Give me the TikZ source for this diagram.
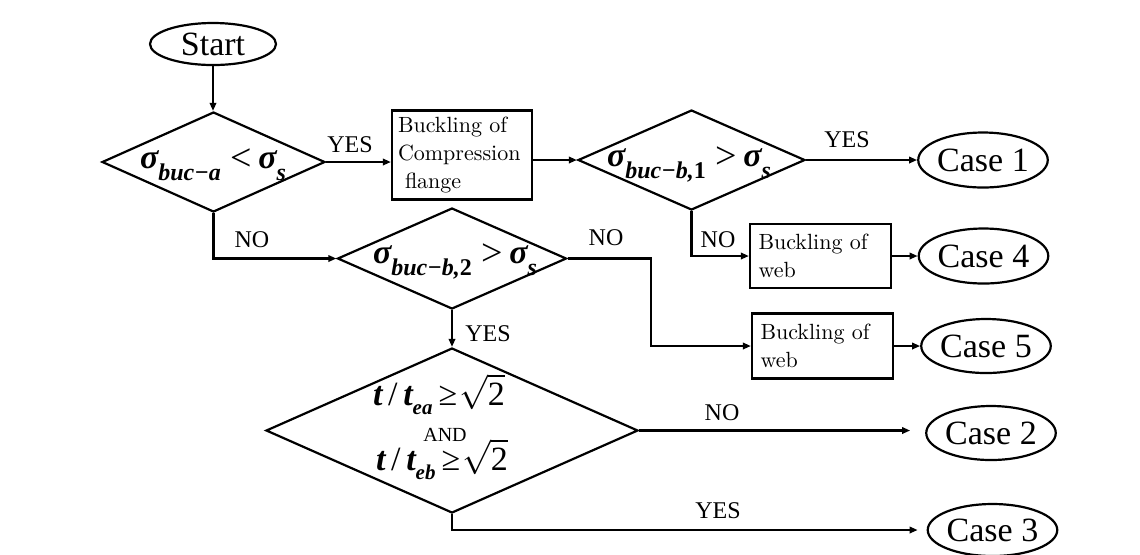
\documentclass[tikz,border=0pt]{standalone}
\usepackage{fontspec}
\setmainfont{Liberation Serif}
\newfontfamily\lmr{Latin Modern Roman}
\usetikzlibrary{shapes.geometric,arrows.meta}
\newcommand{\sgm}{{\bfseries\itshape σ}}
\newcommand{\bi}[1]{{\bfseries\itshape #1}}
\newcommand{\rel}[1]{\raisebox{-1pt}{\fontsize{19}{20}\selectfont #1}}
\newcommand{\sbx}[2][6pt]{\raisebox{-#1}{\fontsize{12}{13}\selectfont\bfseries\itshape #2}}
\newcommand{\sbt}[1]{\raisebox{-4.5pt}{\fontsize{10.5}{12}\selectfont\bfseries\itshape #1}}
\begin{document}
\begin{tikzpicture}[x=0.5pt,y=-0.5pt,line width=1.1pt,
  arr/.style={-{Triangle[length=4pt,width=3.2pt]}},
  term/.style={ellipse,draw,inner sep=0pt,font=\fontsize{17}{20}\selectfont},
  dec/.style={diamond,draw,inner sep=0pt},
  proc/.style={rectangle,draw,inner sep=0pt,font=\lmr\fontsize{11}{14}\selectfont,align=left},
  lbl/.style={font=\fontsize{12}{14}\selectfont,anchor=base,inner sep=0pt},
  mtxt/.style={anchor=base,inner sep=0pt,font=\fontsize{17}{20}\selectfont}]
\useasboundingbox (0,0) rectangle (1140,554);

% terminals
\node[term,minimum width=63pt,minimum height=21pt] (start) at (213,44) {Start};
\node[term,minimum width=64pt,minimum height=27.5pt] (c1) at (983,160) {Case 1};
\node[term,minimum width=64.5pt,minimum height=27.5pt] (c4) at (983.5,256) {Case 4};
\node[term,minimum width=64pt,minimum height=27pt] (c5) at (986,346) {Case 5};
\node[term,minimum width=64pt,minimum height=27pt] (c2) at (991,433) {Case 2};
\node[term,minimum width=64.5pt,minimum height=26pt] (c3) at (992.5,530) {Case 3};

% decisions
\node[dec,minimum width=111.5pt,minimum height=50pt] (d1) at (213.5,162) {};
\node[dec,minimum width=113.5pt,minimum height=50pt] (d2) at (691.5,160) {};
\node[dec,minimum width=114.5pt,minimum height=50.5pt] (d3) at (452,258.5) {};
\node[dec,minimum width=186pt,minimum height=82.5pt] (d4) at (452,430.5) {};

% decision texts
\node[mtxt] (t1) at (213,168) {\sgm\sbx{buc−a}\hspace{5pt}\rel{<}\hspace{3pt}\sgm\sbx{s}};
\node[mtxt] (t2) at (689,166) {\sgm\sbx{buc−b,\upshape 1}\hspace{5pt}\rel{>}\hspace{3pt}\sgm\sbx{s}};
\node[mtxt] (t3) at (455,263) {\sgm\sbx{buc−b,\upshape 2}\hspace{5pt}\rel{>}\hspace{3pt}\sgm\sbx{s}};
\node[mtxt] (t4a) at (439,405) {\bi{t}\,/\,\bi{t}\sbt{ea}\hspace{3pt}≥\hspace{1pt}$\sqrt{\mbox{2}}$};
\node[lbl,font=\fontsize{10}{12}\selectfont] (t4b) at (445,441) {AND};
\node[mtxt] (t4c) at (442,470) {\bi{t}\,/\,\bi{t}\sbt{eb}\hspace{3pt}≥\hspace{1pt}$\sqrt{\mbox{2}}$};

% process boxes
\node[proc,minimum width=70pt,minimum height=44.5pt,text width=64pt] (b1) at (462,155) {Buckling of\\Compression\\\hspace*{3.5pt}flange};
\node[proc,minimum width=70.5pt,minimum height=32pt,text width=62pt] (b3) at (820.5,256) {Buckling of\\web};
\node[proc,minimum width=70.5pt,minimum height=32.5pt,text width=62pt] (b2) at (822.5,346) {Buckling of\\web};

% labels
\node[lbl] (l1) at (350,152) {YES};
\node[lbl] (l2) at (847,147) {YES};
\node[lbl] (l3) at (252,247) {NO};
\node[lbl] (l4) at (606,245) {NO};
\node[lbl] (l5) at (718,247) {NO};
\node[lbl] (l6) at (488,341) {YES};
\node[lbl] (l7) at (722,420) {NO};
\node[lbl] (l8) at (718,518) {YES};

% connectors
\coordinate (k) at (651,346);
\draw[arr] (start.south) -- (start.south |- d1.north);
\draw[arr] (d1.east) -- (d1.east -| b1.west);
\draw[arr] (b1.east |- d2.west) -- (d2.west);
\draw[arr] (d2.east) -- (c1.west);
\draw[arr] (d1.south) |- (d3.west);
\draw[arr] (d2.south) |- (b3.west);
\draw[arr] (b3.east) -- (c4.west);
\draw[arr] (d3.east) -| (k) -- (b2.west);
\draw[arr] (b2.east) -- (c5.west);
\draw[arr] (d3.south) -- (d4.north);
\draw[arr,shorten >=7.5pt] (d4.east) -- (d4.east -| c2.west);
\draw[arr,shorten >=4.5pt] (d4.south) |- (c3.west);
\end{tikzpicture}
\end{document}
